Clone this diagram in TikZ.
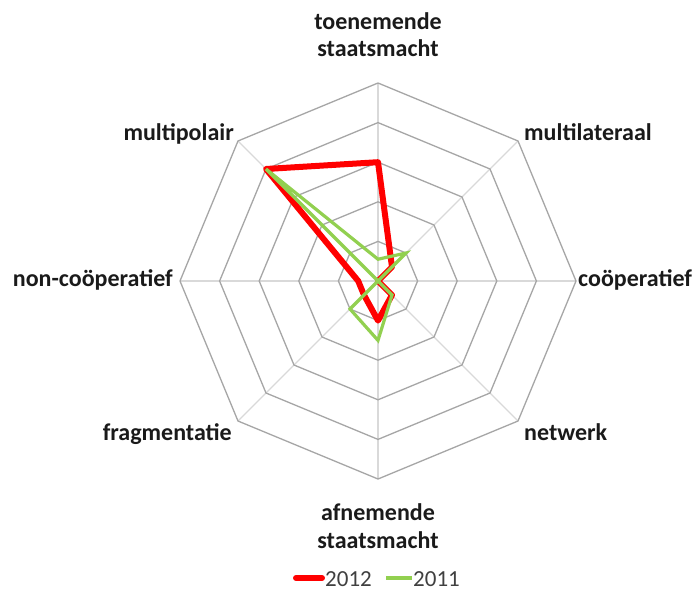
\documentclass[tikz,border=0pt]{standalone}
\usepackage{fontspec}
\setmainfont{Carlito}
\definecolor{ringgray}{HTML}{A6A6A6}
\definecolor{spokegray}{HTML}{D9D9D9}
\definecolor{red12}{HTML}{FF0000}
\definecolor{green11}{HTML}{92D050}
\definecolor{labelcol}{HTML}{1A1A1A}
\definecolor{legendcol}{HTML}{404040}
\tikzset{
  ring/.style={draw=ringgray, line width=1.3pt, line join=miter},
  spoke/.style={draw=spokegray, line width=1.3pt},
  serieA/.style={draw=red12, line width=6pt, line join=round, line cap=round},
  serieB/.style={draw=green11, line width=3.2pt, line join=miter},
  axlabel/.style={inner sep=0pt, text=labelcol, font=\fontsize{24}{28}\selectfont\bfseries},
  legtext/.style={inner sep=0pt, text=legendcol, font=\fontsize{23}{27}\selectfont},
}
\begin{document}
\begin{tikzpicture}[x=1pt,y=1pt]
\useasboundingbox[fill=white] (-378,-311) rectangle (322,281);
\def\R{198}
% spokes
\foreach \a in {90,45,0,-45,-90,-135,180,135}
  \draw[spoke] (0,0) -- (\a:\R pt);
% rings
\foreach \k in {1,...,5}{
  \pgfmathsetmacro\r{\k*\R/5}
  \draw[ring] (90:\r pt) -- (45:\r pt) -- (0:\r pt) -- (-45:\r pt) -- (-90:\r pt) -- (-135:\r pt) -- (180:\r pt) -- (135:\r pt) -- cycle;
}
\pgfmathsetmacro\u{\R/5}
% series 2012
\draw[serieA] (90:3*\u pt) -- (45:0.5*\u pt) -- (0:0pt) -- (-45:0.5*\u pt) -- (-90:1*\u pt) -- (-135:0.5*\u pt) -- (180:0.5*\u pt) -- (135:4*\u pt) -- cycle;
% series 2011
\draw[serieB] (90:0.55*\u pt) -- (45:1*\u pt) -- (0:0pt) -- (-45:0.5*\u pt) -- (-90:1.5*\u pt) -- (-135:1*\u pt) -- (180:0pt) -- (135:4*\u pt) -- cycle;
% labels
\node[axlabel, anchor=base] (t1) at (0,251) {toenemende};
\node[axlabel, anchor=base] (t2) at (0,224) {staatsmacht};
\node[axlabel, anchor=base west] (ml) at (146,141) {multilateraal};
\node[axlabel, anchor=base west] (co) at (200,-5) {coöperatief};
\node[axlabel, anchor=base west] (nw) at (146,-159) {netwerk};
\node[axlabel, anchor=base] (a1) at (0,-239) {afnemende};
\node[axlabel, anchor=base] (a2) at (0,-267) {staatsmacht};
\node[axlabel, anchor=base east] (fr) at (-146,-159) {fragmentatie};
\node[axlabel, anchor=base east] (nc) at (-205,-5) {non-coöperatief};
\node[axlabel, anchor=base east] (mp) at (-144,141) {multipolair};
% legend
\coordinate (l1a) at (-82,-297);
\coordinate (l1b) at (-56,-297);
\draw[draw=red12, line width=6pt, line cap=round] (l1a) -- (l1b);
\node[legtext, anchor=base west] (lg1) at (-53,-305) {2012};
\coordinate (l2a) at (8,-297);
\coordinate (l2b) at (34,-297);
\draw[draw=green11, line width=3.2pt] (l2a) -- (l2b);
\node[legtext, anchor=base west] (lg2) at (35,-305) {2011};
\end{tikzpicture}
\end{document}
